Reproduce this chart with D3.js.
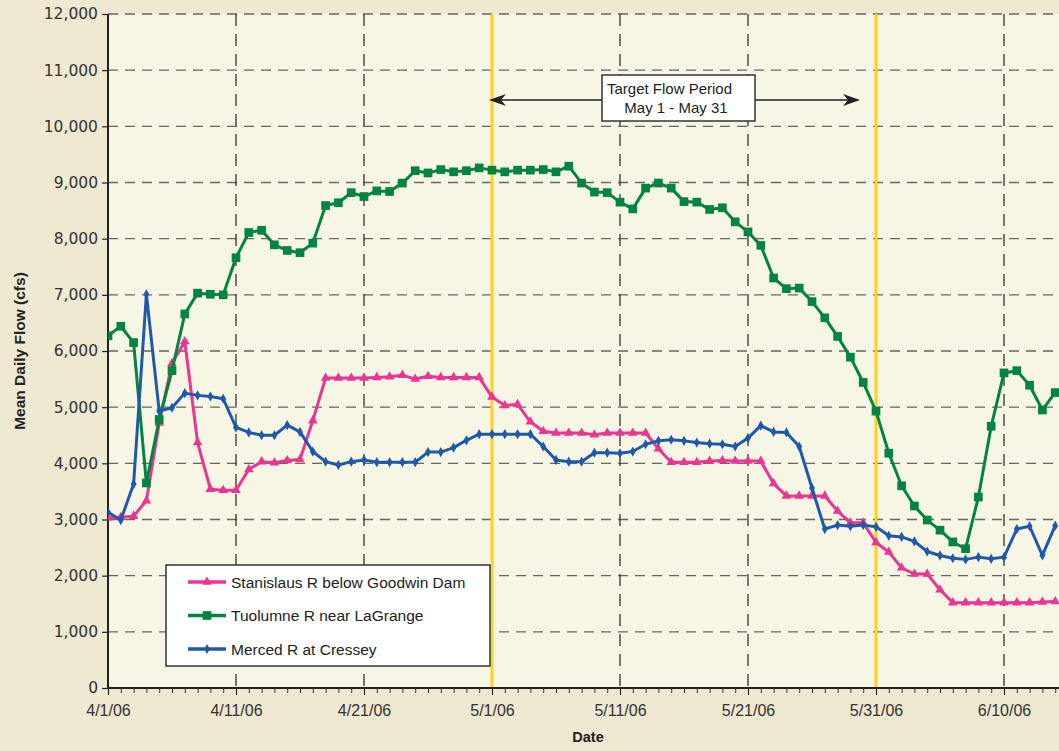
<!DOCTYPE html>
<html>
<head>
<meta charset="utf-8">
<script src="https://cdn.jsdelivr.net/npm/d3@7"></script>
<style>
  body { margin: 0; background: #efe9d1; }
  svg { display: block; }
</style>
</head>
<body>
<div id="chart"></div>
<script>
// daily values, starting 4/1/06
var startDate = new Date(2006, 3, 1);
var stanislaus = [3030, 3040, 3060, 3335, 4720, 5780, 6170, 4370, 3540, 3520,
  3520, 3890, 4030, 4010, 4050, 4070, 4760, 5520, 5520, 5520,
  5520, 5530, 5540, 5570, 5500, 5550, 5530, 5530, 5530, 5530,
  5180, 5030, 5050, 4740, 4570, 4540, 4540, 4540, 4510, 4540,
  4540, 4540, 4540, 4260, 4020, 4020, 4020, 4040, 4050, 4040,
  4040, 4040, 3640, 3420, 3420, 3420, 3420, 3150, 2940, 2940,
  2590, 2420, 2140, 2030, 2030, 1750, 1520, 1520, 1520, 1520,
  1520, 1520, 1520, 1530, 1540];
var tuolumne = [6270, 6440, 6150, 3650, 4780, 5650, 6660, 7030, 7010, 7000,
  7660, 8110, 8150, 7890, 7790, 7750, 7920, 8590, 8640, 8820,
  8750, 8850, 8840, 8990, 9210, 9170, 9230, 9190, 9210, 9260,
  9220, 9190, 9220, 9220, 9230, 9190, 9290, 8990, 8830, 8820,
  8650, 8530, 8900, 8990, 8900, 8660, 8650, 8520, 8550, 8300,
  8120, 7880, 7300, 7110, 7120, 6880, 6590, 6260, 5890, 5440,
  4930, 4180, 3600, 3240, 2990, 2810, 2600, 2480, 3400, 4660,
  5610, 5650, 5390, 4950, 5260];
var merced = [3130, 2990, 3630, 7010, 4930, 4990, 5250, 5210, 5190, 5150,
  4640, 4550, 4500, 4500, 4680, 4560, 4210, 4030, 3970, 4030,
  4060, 4020, 4020, 4020, 4020, 4200, 4200, 4280, 4410, 4520,
  4520, 4520, 4520, 4520, 4300, 4060, 4030, 4030, 4190, 4190,
  4180, 4210, 4340, 4400, 4420, 4400, 4370, 4350, 4340, 4300,
  4450, 4670, 4560, 4550, 4300, 3560, 2830, 2900, 2880, 2900,
  2870, 2710, 2690, 2610, 2430, 2360, 2310, 2290, 2330, 2300,
  2330, 2830, 2880, 2360, 2890];
var seriesNames = ['Stanislaus R below Goodwin Dam', 'Tuolumne R near LaGrange', 'Merced R at Cressey'];
var seriesColors = ['#ea3592', '#00843f', '#1f5aa8'];
var tickLabels = ['4/1/06', '4/11/06', '4/21/06', '5/1/06', '5/11/06', '5/21/06', '5/31/06', '6/10/06'];
var targetStart = new Date(2006, 4, 1);
var targetEnd = new Date(2006, 4, 31);

var w = 1059, h = 751;
var pLeft = 108, pTop = 14, pBottom = 688, pRight = 1059;

function day(i) { return d3.timeDay.offset(startDate, i); }

var x = d3.scaleTime()
  .domain([startDate, new Date(2006, 5, 15)])
  .range([pLeft, pLeft + 75 * 12.8]);
var y = d3.scaleLinear().domain([0, 12000]).range([pBottom, pTop]);

var svg = d3.select('#chart').append('svg')
  .attr('width', w)
  .attr('height', h);

svg.append('rect')
  .attr('width', w).attr('height', h)
  .attr('fill', '#efe9d1');

svg.append('rect')
  .attr('x', pLeft).attr('y', pTop)
  .attr('width', pRight - pLeft).attr('height', pBottom - pTop)
  .attr('fill', '#f7f5e3');

svg.append('clipPath').attr('id', 'clip')
  .append('rect')
    .attr('x', pLeft).attr('y', pTop - 10)
    .attr('width', pRight - pLeft).attr('height', pBottom - pTop + 10);

// horizontal grid
svg.selectAll('.hgrid')
  .data(d3.range(1000, 12001, 1000))
  .enter()
  .append('line')
    .attr('x1', pLeft).attr('x2', pRight)
    .attr('y1', d => y(d)).attr('y2', d => y(d))
    .style('stroke', '#666')
    .style('stroke-width', 1.4)
    .style('stroke-dasharray', '10,7');

// vertical grid
var tickDates = tickLabels.map((t, i) => day(i * 10));
svg.selectAll('.vgrid')
  .data(tickDates.slice(1))
  .enter()
  .append('line')
    .attr('x1', d => x(d)).attr('x2', d => x(d))
    .attr('y1', pTop).attr('y2', pBottom)
    .style('stroke', '#333')
    .style('stroke-width', 1.3)
    .style('stroke-dasharray', '12,8');

// target period lines
svg.selectAll('.target')
  .data([targetStart, targetEnd])
  .enter()
  .append('line')
    .attr('x1', d => x(d)).attr('x2', d => x(d))
    .attr('y1', pTop).attr('y2', pBottom)
    .style('stroke', '#ffd21f')
    .style('stroke-width', 3);

// axes
var yAxis = d3.axisLeft(y)
  .tickValues(d3.range(0, 12001, 1000))
  .tickSize(6)
  .tickFormat(d3.format(','));
var gy = svg.append('g')
  .attr('transform', 'translate(' + pLeft + ',0)')
  .call(yAxis);
gy.select('.domain').remove();
gy.selectAll('line').style('stroke', '#222').style('stroke-width', 1.2);
gy.selectAll('text')
  .attr('x', -10)
  .style('font-family', 'DejaVu Sans')
  .style('font-size', '15.5px')
  .style('fill', '#333');

svg.append('line')
  .attr('x1', pLeft).attr('x2', pLeft)
  .attr('y1', pTop).attr('y2', pBottom)
  .style('stroke', '#222').style('stroke-width', 2);

// minor daily ticks
var gx = svg.append('g')
  .attr('transform', 'translate(0,' + pBottom + ')')
  .call(d3.axisBottom(x).ticks(d3.timeDay.every(1)).tickSize(5).tickFormat(''));
gx.select('.domain').remove();
gx.selectAll('line').style('stroke', '#333').style('stroke-width', 1);

var gx2 = svg.append('g')
  .attr('transform', 'translate(0,' + pBottom + ')')
  .call(d3.axisBottom(x).tickValues(tickDates).tickSize(7).tickFormat((d, i) => tickLabels[i]));
gx2.select('.domain').remove();
gx2.selectAll('line').style('stroke', '#222').style('stroke-width', 1.2);
gx2.selectAll('text')
  .attr('y', 17)
  .attr('dy', '0.71em')
  .style('font-family', 'Liberation Sans')
  .style('font-size', '16px')
  .style('fill', '#333');

svg.append('line')
  .attr('x1', pLeft).attr('x2', pRight)
  .attr('y1', pBottom).attr('y2', pBottom)
  .style('stroke', '#222').style('stroke-width', 2);

// axis titles
svg.append('text')
  .attr('x', 588).attr('y', 742)
  .attr('text-anchor', 'middle')
  .style('font-family', 'Liberation Sans')
  .style('font-weight', 'bold')
  .style('font-size', '14.5px')
  .style('fill', '#222')
  .text('Date');

svg.append('text')
  .attr('transform', 'translate(25,351) rotate(-90)')
  .attr('text-anchor', 'middle')
  .style('font-family', 'Liberation Sans')
  .style('font-weight', 'bold')
  .style('font-size', '15.5px')
  .style('fill', '#222')
  .text('Mean Daily Flow (cfs)');

// series
var allSeries = [stanislaus, tuolumne, merced];
var symbols = [d3.symbolTriangle, d3.symbolSquare, d3.symbolDiamond];
var symbolSizes = [40, 75, 30];

var line = d3.line()
  .x((d, i) => x(day(i)))
  .y(d => y(d));

var plot = svg.append('g').attr('clip-path', 'url(#clip)');

// draw order: pink, green, blue
[0, 1, 2].forEach(function (k) {
  var g = plot.append('g');
  g.append('path')
    .datum(allSeries[k])
    .attr('d', line)
    .style('fill', 'none')
    .style('stroke', seriesColors[k])
    .style('stroke-width', 3)
    .style('stroke-linejoin', 'round');
  g.selectAll('path.pt')
    .data(allSeries[k])
    .enter()
    .append('path')
      .attr('class', 'pt')
      .attr('d', d3.symbol().type(symbols[k]).size(symbolSizes[k]))
      .attr('transform', (d, i) => 'translate(' + x(day(i)) + ',' + y(d) + ')')
      .style('fill', seriesColors[k]);
});

// legend
var legend = svg.append('g');
legend.append('rect')
  .attr('x', 166).attr('y', 565)
  .attr('width', 324).attr('height', 101)
  .style('fill', '#fff')
  .style('stroke', '#333')
  .style('stroke-width', 1.5);
seriesNames.forEach(function (name, k) {
  var ly = 582 + k * 33.5;
  legend.append('line')
    .attr('x1', 188).attr('x2', 226)
    .attr('y1', ly).attr('y2', ly)
    .style('stroke', seriesColors[k])
    .style('stroke-width', 3.5);
  legend.append('path')
    .attr('d', d3.symbol().type(symbols[k]).size(symbolSizes[k]))
    .attr('transform', 'translate(207,' + ly + ')')
    .style('fill', seriesColors[k]);
  legend.append('text')
    .attr('x', 231).attr('y', ly)
    .attr('dy', '0.36em')
    .style('font-family', 'Liberation Sans')
    .style('font-size', '15.5px')
    .style('fill', '#222')
    .text(name);
});

// target flow annotation
var arrowY = 100;
svg.append('line')
  .attr('x1', x(targetStart) + 2).attr('x2', 856)
  .attr('y1', arrowY).attr('y2', arrowY)
  .style('stroke', '#222')
  .style('stroke-width', 1.3);
var lx = x(targetStart) - 3;
var rx = 860;
svg.append('path')
  .attr('d', 'M' + lx + ',' + arrowY + 'L' + (lx + 17) + ',' + (arrowY - 6) + 'L' + (lx + 12) + ',' + arrowY + 'L' + (lx + 17) + ',' + (arrowY + 6) + 'Z')
  .style('fill', '#222');
svg.append('path')
  .attr('d', 'M' + rx + ',' + arrowY + 'L' + (rx - 17) + ',' + (arrowY - 6) + 'L' + (rx - 12) + ',' + arrowY + 'L' + (rx - 17) + ',' + (arrowY + 6) + 'Z')
  .style('fill', '#222');
svg.append('rect')
  .attr('x', 602).attr('y', 75)
  .attr('width', 153).attr('height', 46)
  .style('fill', '#fff')
  .style('stroke', '#333')
  .style('stroke-width', 1.5);
svg.append('text')
  .attr('x', 607).attr('y', 94)
  .style('font-family', 'Liberation Sans')
  .style('font-size', '15px')
  .style('fill', '#222')
  .text('Target Flow Period');
svg.append('text')
  .attr('x', 676).attr('y', 113)
  .attr('text-anchor', 'middle')
  .style('font-family', 'Liberation Sans')
  .style('font-size', '15px')
  .style('fill', '#222')
  .text('May 1 - May 31');
</script>
</body>
</html>
